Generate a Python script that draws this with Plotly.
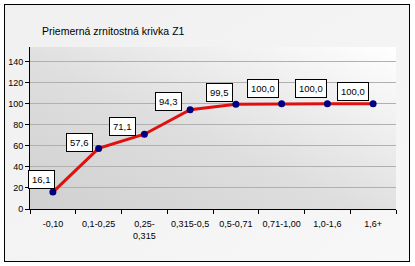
import base64
import plotly.graph_objects as go

categories = ["-0,10", "0,1-0,25", "0,25-<br>0,315", "0,315-0,5", "0,5-0,71", "0,71-1,00", "1,0-1,6", "1,6+"]
values = [16.1, 57.6, 71.1, 94.3, 99.5, 100.0, 100.0, 100.0]
y_ticks = [0, 20, 40, 60, 80, 100, 120, 140]
title_text = "Priemerná zrnitostná krivka Z1"

# label offsets (pixels) for the data-label boxes, styling only
label_dx = [-11, -19, -22, -22, -16, -19, -16, -20]
label_dy = [13, 6, 8, 8, 12, 15, 15, 12]

W, H = 415, 266
ML, MR, MT, MB = 30, 19, 47, 57
PW, PH = W - ML - MR, H - MT - MB

svg = f'''<svg xmlns="http://www.w3.org/2000/svg" width="{W}" height="{H}" viewBox="0 0 {W} {H}" preserveAspectRatio="none">
<defs>
<linearGradient id="o" x1="0" y1="0" x2="1" y2="1"><stop offset="0" stop-color="#f0f0f0"/><stop offset="1" stop-color="#f7f7f7"/></linearGradient>
<linearGradient id="p" x1="0" y1="1" x2="1" y2="0"><stop offset="0" stop-color="#d0d0d0"/><stop offset="0.45" stop-color="#dedede"/><stop offset="1" stop-color="#ffffff"/></linearGradient>
</defs>
<rect x="0" y="0" width="{W}" height="{H}" fill="#ffffff"/>
<rect x="4.5" y="4.5" width="405" height="257" fill="url(#o)" stroke="#000000" stroke-width="1"/>
<rect x="{ML}" y="{MT}" width="{PW}" height="{PH}" fill="url(#p)"/>
</svg>'''
src = "data:image/svg+xml;base64," + base64.b64encode(svg.encode()).decode()

fig = go.Figure()
fig.add_trace(go.Scatter(
    x=categories, y=values, mode="lines+markers",
    line=dict(color="#e01010", width=3),
    marker=dict(color="#000080", size=7),
    hoverinfo="skip", showlegend=False,
))

annotations = []
for c, v, dx, dy in zip(categories, values, label_dx, label_dy):
    annotations.append(dict(
        x=c, y=v, xref="x", yref="y", text=f"{v:.1f}".replace(".", ","),
        showarrow=False, xshift=dx, yshift=dy,
        bgcolor="#ffffff", bordercolor="#000000", borderwidth=1, borderpad=3,
        font=dict(family="Liberation Sans, Arial", size=9.5, color="#000000"),
    ))

fig.update_layout(
    width=W, height=H,
    margin=dict(l=ML, r=MR, t=MT, b=MB),
    paper_bgcolor="#ffffff", plot_bgcolor="rgba(0,0,0,0)",
    font=dict(family="Liberation Sans, Arial", size=9, color="#000000"),
    title=dict(text=title_text, xref="container", yref="container",
               x=42 / W, xanchor="left", y=1 - 31 / H, yanchor="middle",
               font=dict(family="Liberation Sans, Arial", size=10.5, color="#000000")),
    images=[dict(source=src, xref="paper", yref="paper",
                 x=-ML / PW, y=1 + MT / PH, sizex=W / PW, sizey=H / PH,
                 xanchor="left", yanchor="top", sizing="stretch", layer="below")],
    annotations=annotations,
    xaxis=dict(type="category", range=[-0.5, len(categories) - 0.5],
               tickson="boundaries", ticks="outside", ticklen=4, tickcolor="#000000",
               tickangle=0, automargin=False, ticklabelstandoff=6,
               showline=True, linecolor="#000000", linewidth=1,
               showgrid=False, zeroline=False, fixedrange=True,
               tickfont=dict(size=9, color="#000000")),
    yaxis=dict(range=[0, 154], tickvals=y_ticks, ticktext=[str(t) for t in y_ticks],
               ticks="outside", ticklen=4, tickcolor="#000000", automargin=False,
               showline=True, linecolor="#000000", linewidth=1,
               showgrid=True, gridcolor="#b0b0b0", gridwidth=1,
               zeroline=False, fixedrange=True, tickfont=dict(size=9, color="#000000")),
)

fig.write_html("out.html", config={"displayModeBar": False})
